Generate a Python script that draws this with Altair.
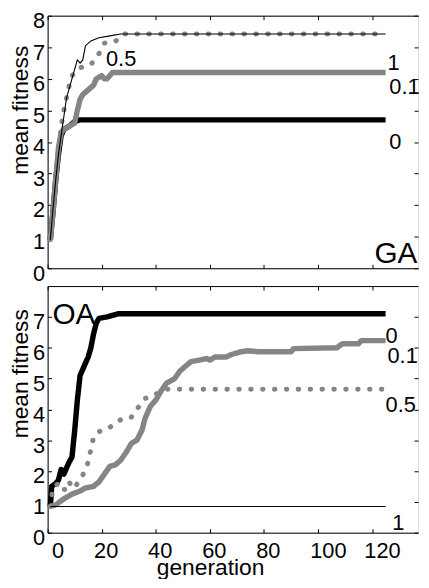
import altair as alt
import pandas as pd

FONT = "Liberation Sans"
GRAY = "#858585"

# ---------------- GA panel (top) ----------------
ga_gen_0 = [1, 2, 3, 4, 5, 6, 8, 10, 12, 125]
ga_fit_0 = [0.9, 1.8, 2.8, 3.6, 4.2, 4.4, 4.5, 4.65, 4.7, 4.7]
ga_gen_01 = [1, 2, 3, 4, 5, 6, 8, 10, 11, 12, 13, 15, 17, 18, 20, 21, 22, 24, 125]
ga_fit_01 = [0.9, 1.8, 2.8, 3.8, 4.3, 4.4, 4.5, 4.6, 5.0, 5.35, 5.5, 5.65, 5.8, 6.0, 6.1, 6.0, 6.0, 6.2, 6.2]
ga_gen_05 = [1, 2, 3, 4, 5, 6, 7, 8, 9, 12, 16, 19, 21, 25, 28, 125]
ga_fit_05 = [0.9, 1.9, 2.9, 3.7, 4.5, 5.0, 5.4, 5.8, 6.1, 6.35, 6.45, 6.8, 7.13, 7.18, 7.42, 7.42]
ga_gen_1 = [1, 2, 3, 4, 5, 6, 7, 8, 9, 10, 11, 12, 13, 14, 16, 19, 23, 27, 125]
ga_fit_1 = [0.9, 1.9, 2.8, 3.6, 4.2, 4.8, 5.4, 5.7, 6.0, 6.3, 6.6, 6.5, 6.6, 7.05, 7.2, 7.3, 7.36, 7.42, 7.42]

ga_lab_text = ["0.5", "1", "0.1", "0"]
ga_lab_gen = [21.6, 125.7, 126.4, 126.4]
ga_lab_fit = [6.4, 6.27, 5.51, 3.78]
ga_name, ga_name_gen, ga_name_fit = "GA", 120.9, 0.17

# ---------------- OA panel (bottom) ----------------
oa_gen_0 = [1, 1.5, 3, 4, 5, 6, 7, 8, 9, 10, 11, 12, 13, 14, 15, 16, 17, 18, 19, 22, 26, 125]
oa_fit_0 = [0.85, 1.5, 1.6, 1.7, 2.05, 1.9, 2.1, 2.3, 2.45, 3.3, 4.3, 5.1, 5.3, 5.5, 5.7, 6.0, 6.45, 6.8, 6.95, 7.0, 7.1, 7.1]
oa_gen_01 = [1, 3, 6, 9, 12, 14, 17, 19, 21, 23, 25, 27, 29, 31, 33, 35, 36, 38, 40, 42, 44, 47, 49, 51,
             53, 56, 59, 60, 62, 66, 68, 71, 74, 78, 90, 91, 107, 109, 115, 116, 125]
oa_fit_01 = [0.85, 0.9, 1.1, 1.25, 1.35, 1.45, 1.5, 1.65, 1.9, 2.15, 2.2, 2.35, 2.6, 2.9, 3.0, 3.35, 3.7, 4.1,
             4.3, 4.6, 4.85, 5.0, 5.25, 5.4, 5.55, 5.6, 5.65, 5.6, 5.7, 5.7, 5.78, 5.86, 5.9, 5.87, 5.87,
             5.97, 6.0, 6.13, 6.13, 6.23, 6.23]
oa_gen_05 = [1, 2, 4, 5, 7, 8, 9, 10, 12, 14, 15, 16, 17, 19, 22, 25, 28, 31, 33, 36, 40, 44, 125]
oa_fit_05 = [0.85, 1.45, 1.6, 1.4, 1.4, 1.65, 1.45, 1.45, 1.75, 2.0, 2.3, 2.7, 3.1, 3.28, 3.35, 3.55, 3.72,
             3.75, 4.0, 4.35, 4.5, 4.65, 4.65]
oa_gen_1 = [1, 125]
oa_fit_1 = [0.85, 0.85]

oa_lab_text = ["0", "0.1", "0.5", "1"]
oa_lab_gen = [125.0, 125.7, 125.0, 127.5]
oa_lab_fit = [6.14, 5.5, 3.93, 0.08]
oa_name, oa_name_gen, oa_name_fit = "OA", 1.8, 6.78

THICK = ["a0", "b01"]
W = 374
X_MAX = 137


def thick_df(g0, f0, g01, f01):
    rows = []
    for s, gs, fs in (("a0", g0, f0), ("b01", g01, f01)):
        rows += [{"s": s, "g": g, "v": v, "o": i} for i, (g, v) in enumerate(zip(gs, fs))]
    return pd.DataFrame(rows)


def xscale():
    return alt.Scale(domain=[0, X_MAX], nice=False, zero=False)


def yscale():
    return alt.Scale(domain=[0, 8], nice=False, zero=False)


def panel(tdf0, g05, f05, g1, f1, lab_text, lab_gen, lab_fit, name, name_gen, name_fit, h, bottom, yvals, ty):
    ax_common = dict(domain=True, domainColor="black", domainWidth=1, ticks=False, tickSize=0,
                     grid=True, gridColor="black", gridOpacity=1, gridWidth=1,
                     labelFont=FONT, labelFontSize=22, labelColor="black",
                     titleFont=FONT, titleFontSize=23, titleColor="black", titleFontWeight="normal")
    xvals = [0, 20, 40, 60, 80, 100, 120]
    xdash = [4, h - 8, 4, 3000]
    if bottom:
        xaxis = alt.Axis(orient="bottom", values=xvals, labels=True,
                         labelOffset={"condition": {"test": "datum.value >= 100", "value": 10}, "value": 4},
                         labelPadding=8,
                         gridDash=xdash, title="generation", titleX=164, titleY=42,
                         titleBaseline="alphabetic", titleAlign="center", **ax_common)
    else:
        xaxis = alt.Axis(orient="bottom", values=xvals, labels=False, gridDash=xdash, title=None,
                         **ax_common)
    yaxis = alt.Axis(orient="left", values=yvals, labelOffset=5, labelPadding=3,
                     gridDash=[4, W - 8, 4, 3000],
                     title="mean fitness", titleX=-15, titleY=ty,
                     titleBaseline="bottom", titleAlign="center", titleAngle=270, **ax_common)

    thick = alt.Chart(tdf0).mark_line(strokeCap="butt", strokeJoin="round", strokeWidth=5.5).encode(
        x=alt.X("g:Q", scale=xscale(), axis=xaxis),
        y=alt.Y("v:Q", scale=yscale(), axis=yaxis),
        color=alt.Color("s:N", scale=alt.Scale(domain=THICK, range=["black", GRAY]), legend=None),
        order="o:Q",
    )
    dotted = alt.Chart(pd.DataFrame({"g": g05, "v": f05})).mark_line(
        color=GRAY, strokeWidth=5, strokeCap="round", strokeDash=[0.5, 11.5]).encode(
        x=alt.X("g:Q", scale=xscale(), axis=None),
        y=alt.Y("v:Q", scale=yscale(), axis=None),
    )
    thin = alt.Chart(pd.DataFrame({"g": g1, "v": f1})).mark_line(
        color="black", strokeWidth=1.1).encode(
        x=alt.X("g:Q", scale=xscale(), axis=None),
        y=alt.Y("v:Q", scale=yscale(), axis=None),
    )
    top_axis = alt.Axis(orient="top", values=[0], labels=False, ticks=False, grid=False, domain=True,
                        domainColor="black", domainWidth=1, title=None)
    texts = alt.Chart(pd.DataFrame({"t": lab_text, "g": lab_gen, "v": lab_fit})).mark_text(
        align="left", baseline="alphabetic", font=FONT, fontSize=22, color="black").encode(
        x=alt.X("g:Q", scale=xscale(), axis=top_axis),
        y=alt.Y("v:Q", scale=yscale(), axis=None),
        text="t:N",
    )
    ntext = alt.Chart(pd.DataFrame({"t": [name], "g": [name_gen], "v": [name_fit]})).mark_text(
        align="left", baseline="alphabetic", font=FONT, fontSize=30, color="black").encode(
        x=alt.X("g:Q", scale=xscale(), axis=None),
        y=alt.Y("v:Q", scale=yscale(), axis=None),
        text="t:N",
    )
    return alt.layer(thick, dotted, thin, texts, ntext).resolve_axis(
        x="independent", y="independent").properties(width=W, height=h)


top = panel(thick_df(ga_gen_0, ga_fit_0, ga_gen_01, ga_fit_01),
            ga_gen_05, ga_fit_05, ga_gen_1, ga_fit_1, ga_lab_text, ga_lab_gen, ga_lab_fit,
            ga_name, ga_name_gen, ga_name_fit, 255, False, [0, 1, 2, 3, 4, 5, 6, 7, 8], 95)
bot = panel(thick_df(oa_gen_0, oa_fit_0, oa_gen_01, oa_fit_01),
            oa_gen_05, oa_fit_05, oa_gen_1, oa_fit_1, oa_lab_text, oa_lab_gen, oa_lab_fit,
            oa_name, oa_name_gen, oa_name_fit, 249, True, [0, 1, 2, 3, 4, 5, 6, 7], 88)

chart = alt.vconcat(top, bot, spacing=18, bounds="flush").configure_view(
    stroke=None
).configure(padding={"left": 1, "top": -2, "right": 0, "bottom": -4}, font=FONT, background="white")

chart.save("out.html", embed_options={"renderer": "svg", "actions": False})
